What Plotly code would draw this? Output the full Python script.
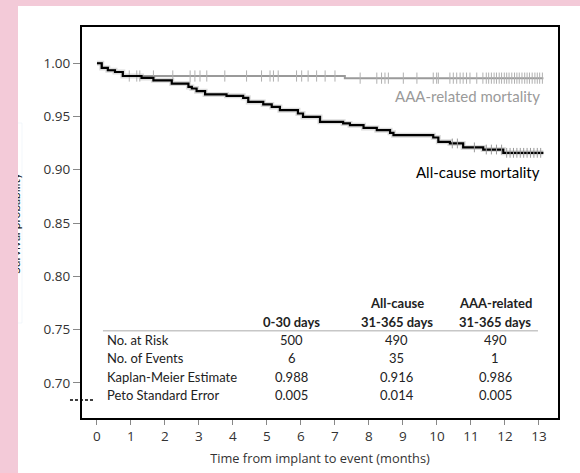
import plotly.graph_objects as go

# ---------------- data ----------------
allcause_t = [0, 0.14, 0.32, 0.53, 0.76, 1.31, 1.66, 2.20, 2.69, 2.79, 2.93, 3.18, 3.81, 4.30,
              4.45, 4.89, 5.14, 5.38, 5.91, 6.06, 6.56, 7.24, 7.44, 7.84, 8.23, 8.62, 8.72,
              9.89, 10.04, 10.38, 10.77, 11.36, 11.95, 13.13]
allcause_s = [1.0, 0.9956, 0.9934, 0.9918, 0.988, 0.9862, 0.984, 0.9809, 0.9778, 0.9763, 0.9738,
              0.9707, 0.9694, 0.9675, 0.9637, 0.9613, 0.959, 0.9559, 0.9528, 0.9496, 0.945,
              0.9435, 0.9419, 0.9393, 0.9372, 0.9347, 0.9325, 0.9303, 0.9262, 0.9247, 0.921,
              0.919, 0.9159, 0.9159]

aaa_t = [0, 0.14, 0.32, 0.53, 0.76, 7.29, 13.13]
aaa_s = [1.0, 0.9956, 0.9934, 0.9918, 0.988, 0.986, 0.986]

aaa_censor_t = [0.95, 1.17, 1.26, 1.66, 2.23, 2.74, 2.88, 3.03, 3.23, 3.76, 4.40, 4.84, 5.09,
                5.19, 5.33, 5.87, 6.02, 6.21, 6.46, 6.71, 7.00, 7.74, 8.23, 8.37, 8.47, 8.57,
                9.01, 9.41, 9.89, 9.99, 10.04, 10.38, 10.48, 10.58, 10.68, 10.77, 10.87, 10.97,
                11.17, 11.35, 11.45, 11.52, 11.60, 11.68, 11.75, 11.83, 11.90, 11.98, 12.05,
                12.12, 12.20, 12.28, 12.35, 12.42, 12.50, 12.58, 12.65, 12.72, 12.80, 12.88,
                12.95, 13.02, 13.10]
allcause_censor_t = [10.45, 10.60, 11.10, 11.45, 11.60, 11.75, 11.90, 12.05, 12.15, 12.25,
                     12.35, 12.45, 12.55, 12.65, 12.75, 12.85, 12.95, 13.05]

x_ticks = list(range(0, 14))
y_ticks = [0.70, 0.75, 0.80, 0.85, 0.90, 0.95, 1.00]
y_tick_labels = ["0.70", "0.75", "0.80", "0.85", "0.90", "0.95", "1.00"]

table_columns = [["", "0-30 days"], ["All-cause", "31-365 days"], ["AAA-related", "31-365 days"]]
table_rows = ["No. at Risk", "No. of Events", "Kaplan-Meier Estimate", "Peto Standard Error"]
table_values = [["500", "490", "490"],
                ["6", "35", "1"],
                ["0.988", "0.916", "0.986"],
                ["0.005", "0.014", "0.005"]]


def step_value(ts, ss, t):
    v = ss[0]
    for ti, si in zip(ts, ss):
        if ti <= t:
            v = si
    return v


FONT = "Lato"
TICKFONT = "Open Sans"
PINK = "#f3cad8"

fig = go.Figure()

# halo under all-cause curve
fig.add_trace(go.Scatter(x=allcause_t, y=allcause_s, mode="lines", line=dict(shape="hv", color="#dcdcdc", width=5),
                         hoverinfo="skip", showlegend=False))
# AAA-related
fig.add_trace(go.Scatter(x=aaa_t, y=aaa_s, mode="lines", line=dict(shape="hv", color="#9a9a9a", width=2),
                         showlegend=False))
fig.add_trace(go.Scatter(x=aaa_censor_t, y=[step_value(aaa_t, aaa_s, t) for t in aaa_censor_t], mode="markers",
                         marker=dict(symbol="line-ns-open", size=8, color="#b0b0b0",
                                     line=dict(color="#b0b0b0", width=1)),
                         showlegend=False, hoverinfo="skip"))
# all-cause
fig.add_trace(go.Scatter(x=allcause_t, y=allcause_s, mode="lines", line=dict(shape="hv", color="black", width=2.2),
                         showlegend=False))
fig.add_trace(go.Scatter(x=allcause_censor_t, y=[step_value(allcause_t, allcause_s, t) for t in allcause_censor_t],
                         mode="markers", marker=dict(symbol="line-ns-open", size=7, color="#999999",
                                                     line=dict(color="#999999", width=1)),
                         showlegend=False, hoverinfo="skip"))

# clipped y-axis title (cut off at page edge)
fig.add_trace(go.Bar(x=[-3], y=[200], base=[150], width=[14], xaxis="x2", yaxis="y2",
                     text=["Survival probability"], textposition="inside", textangle=-90,
                     insidetextanchor="middle", constraintext="none", cliponaxis=True,
                     textfont=dict(family=FONT, size=12, color="#222222"),
                     marker=dict(color="rgba(0,0,0,0)"), hoverinfo="skip", showlegend=False))

annotations = []
# curve labels
annotations.append(dict(x=13.09, y=0.969, xref="x", yref="y", text="AAA-related mortality", showarrow=False,
                        xanchor="right", yanchor="middle", font=dict(family=FONT, size=15, color="#9a9a9a")))
annotations.append(dict(x=13.09, y=0.8978, xref="x", yref="y", text="All-cause mortality", showarrow=False,
                        xanchor="right", yanchor="middle", font=dict(family=FONT, size=15, color="black")))

col_x = [5.735, 8.82, 11.71]
head_y = [0.775, 0.7572]
row_y = [0.7403, 0.7234, 0.7056, 0.6888]
for cx, col in zip(col_x, table_columns):
    for hy, txt in zip(head_y, col):
        if txt:
            annotations.append(dict(x=cx, y=hy, xref="x", yref="y", text="<b>" + txt + "</b>", showarrow=False,
                                    xanchor="center", yanchor="middle", font=dict(family=FONT, size=13, color="#222")))
for ry, label, vals in zip(row_y, table_rows, table_values):
    annotations.append(dict(x=0.235, y=ry, xref="x", yref="y", text=label, showarrow=False,
                            xanchor="left", yanchor="middle", font=dict(family=FONT, size=13, color="#222")))
    for cx, v in zip(col_x, vals):
        annotations.append(dict(x=cx, y=ry, xref="x", yref="y", text=v, showarrow=False,
                                xanchor="center", yanchor="middle", font=dict(family=FONT, size=13, color="#222")))

shapes = [
    dict(type="rect", xref="paper", yref="paper", x0=0, x1=1, y0=0, y1=1, fillcolor="white",
         line=dict(width=0), layer="below"),
    dict(type="line", xref="x", yref="y", x0=0.176, x1=12.97, y0=0.7488, y1=0.7488,
         line=dict(color="#aaaaaa", width=1)),
    dict(type="line", xref="paper", yref="paper", x0=0.0925, x1=0.1335, y0=0.1565, y1=0.1565,
         line=dict(color="black", width=1.5, dash="3px,2px")),
]

fig.update_layout(
    width=580, height=473,
    margin=dict(l=18, r=0, t=6, b=0),
    paper_bgcolor=PINK, plot_bgcolor="white",
    font=dict(family=FONT, size=12, color="#333"),
    xaxis=dict(domain=[0.1139, 0.9609], range=[-0.44, 13.56], tickvals=x_ticks, ticks="outside", ticklen=5,
               tickcolor="#888", showline=True, mirror=True, linecolor="black", linewidth=2,
               showgrid=False, zeroline=False, tickfont=dict(family=TICKFONT, size=13.5, color="#333"),
               title=dict(text="Time from implant to event (months)", standoff=10,
                          font=dict(family=TICKFONT, size=12.8, color="#333"))),
    yaxis=dict(domain=[0.1178, 0.9550], range=[0.667, 1.034], tickvals=y_ticks, ticktext=y_tick_labels,
               ticks="outside", ticklen=7, tickcolor="#888", showline=True, mirror=True, linecolor="black",
               linewidth=2, showgrid=False, zeroline=False, tickfont=dict(family=TICKFONT, size=13.5, color="#333")),
    xaxis2=dict(domain=[0, 0.1], range=[0, 56.2], visible=False, anchor="y2"),
    yaxis2=dict(domain=[0, 1], range=[0, 467], visible=False, anchor="x2"),
    annotations=annotations,
    shapes=shapes,
)

fig.write_html("out.html")
